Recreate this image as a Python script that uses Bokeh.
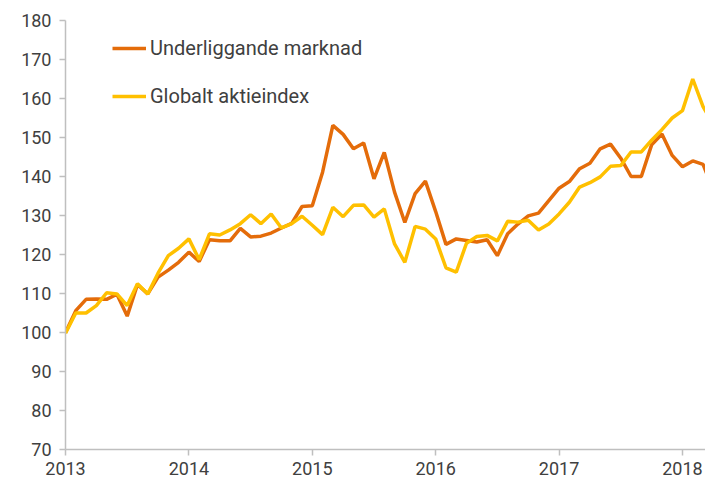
from bokeh.plotting import figure
from bokeh.models import FixedTicker, Legend, LegendItem, ColumnDataSource, Range1d
from bokeh.embed import file_html
from bokeh.resources import INLINE

# Monthly index values, Jan 2013 .. Apr 2018
underliggande = [100.0, 105.6, 108.5, 108.6, 108.5, 109.8, 104.2, 112.3, 109.9, 114.2, 116.0, 118.0,
                 120.6, 118.2, 123.8, 123.5, 123.5, 126.7, 124.5, 124.7, 125.5, 126.8, 128.0, 132.3,
                 132.5, 141.1, 153.1, 150.8, 147.1, 148.6, 139.4, 146.2, 136.0, 128.2, 135.6, 138.8,
                 131.0, 122.6, 124.0, 123.6, 123.2, 123.8, 119.7, 125.3, 127.8, 129.9, 130.6, 133.8,
                 137.0, 138.7, 142.0, 143.4, 147.1, 148.3, 144.7, 140.0, 140.0, 148.1, 150.9, 145.4,
                 142.5, 144.0, 143.1, 136.5]
globalt = [99.8, 105.0, 105.0, 106.9, 110.2, 109.9, 106.9, 112.5, 109.9, 115.2, 119.7, 121.6,
           124.0, 118.7, 125.3, 125.0, 126.3, 127.9, 130.2, 127.9, 130.4, 126.8, 127.9, 129.8,
           127.5, 125.1, 132.1, 129.7, 132.6, 132.7, 129.6, 131.7, 122.7, 118.0, 127.2, 126.5,
           124.0, 116.6, 115.5, 122.9, 124.6, 124.9, 123.5, 128.5, 128.3, 128.8, 126.3, 127.8,
           130.4, 133.4, 137.3, 138.4, 139.9, 142.6, 142.8, 146.3, 146.3, 149.3, 152.0, 155.0,
           156.9, 165.0, 157.9, 153.5]
start_year = 2013
years = [2013, 2014, 2015, 2016, 2017, 2018]
year_labels = ["2013", "2014", "2015", "2016", "2017", "2018"]
y_ticks = [70, 80, 90, 100, 110, 120, 130, 140, 150, 160, 170, 180]
series_names = ["Underliggande marknad", "Globalt aktieindex"]

x = [start_year + i / 12 for i in range(len(underliggande))]
src = ColumnDataSource(dict(x=x, a=underliggande, b=globalt))

FONT = "Roboto"
TXT = "#404040"
AX = "#bfbfbf"

p = figure(width=705, height=482, output_backend="svg", toolbar_location=None,
           x_range=Range1d(2013, 2013 + 62.24 / 12), y_range=Range1d(70, 180),
           min_border_left=65, min_border_right=0, min_border_top=20, min_border_bottom=33)
p.outline_line_color = None
p.xgrid.visible = False
p.ygrid.visible = False
p.background_fill_color = "white"

r1 = p.line("x", "a", source=src, line_color="#E46C0A", line_width=3.5)
r2 = p.line("x", "b", source=src, line_color="#FFC000", line_width=3.5)

p.yaxis.ticker = FixedTicker(ticks=y_ticks)
p.xaxis.ticker = FixedTicker(ticks=years)
p.xaxis.major_label_overrides = {yv: lab for yv, lab in zip(years, year_labels)}
for ax in (p.xaxis[0], p.yaxis[0]):
    ax.axis_line_color = AX
    ax.axis_line_width = 1.5
    ax.major_tick_line_color = AX
    ax.major_tick_line_width = 1.5
    ax.major_tick_out = 6
    ax.major_tick_in = 0
    ax.minor_tick_out = 0
    ax.minor_tick_in = 0
    ax.major_label_text_font = FONT
    ax.major_label_text_font_size = "18px"
    ax.major_label_text_font_style = "normal"
    ax.major_label_text_color = TXT
p.yaxis.major_label_standoff = 8
p.xaxis.major_label_standoff = 6

legend = Legend(items=[LegendItem(label=series_names[0], renderers=[r1]),
                       LegendItem(label=series_names[1], renderers=[r2])],
                location=(47, 341), orientation="vertical",
                padding=0, margin=0, spacing=24,
                glyph_width=34, glyph_height=20, label_height=20,
                label_standoff=4,
                label_text_font=FONT, label_text_font_size="20px",
                label_text_color=TXT,
                border_line_color=None, background_fill_alpha=0)
p.add_layout(legend)

open("out.html", "w").write(file_html(p, INLINE))
